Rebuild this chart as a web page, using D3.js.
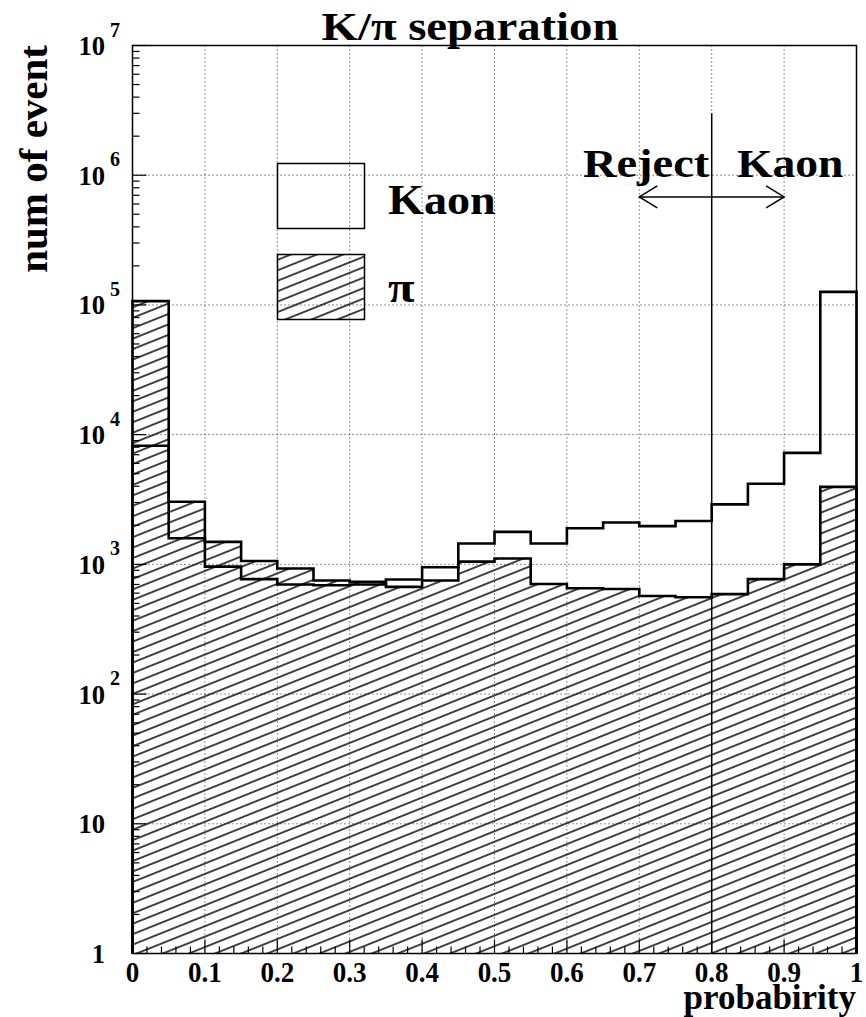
<!DOCTYPE html>
<html>
<head>
<meta charset="utf-8">
<script src="https://cdn.jsdelivr.net/npm/d3@7"></script>
<style>
  html, body { margin: 0; padding: 0; background: #fff; }
  svg { display: block; }
  text { font-family: 'Liberation Serif', 'Times New Roman', serif; font-weight: bold; fill: #000; }
</style>
</head>
<body>
<svg id="chart" width="866" height="1017"></svg>
<script>
// Bin lower edges of the probability histogram (bin width 0.05)
const binEdges = [0.00, 0.05, 0.10, 0.15, 0.20, 0.25, 0.30, 0.35, 0.40, 0.45,
                  0.50, 0.55, 0.60, 0.65, 0.70, 0.75, 0.80, 0.85, 0.90, 0.95, 1.00];
// Event counts per bin
const kaonCounts = [8200, 1590, 960, 770, 700, 690, 700, 765, 950, 1450,
                    1780, 1450, 1900, 2100, 1970, 2160, 2900, 4180, 7240, 126000];
const pionCounts = [107000, 3040, 1490, 1060, 930, 750, 735, 670, 750, 1050,
                    1110, 705, 655, 645, 570, 557, 590, 770, 1000, 3960];
// Axis ticks
const xTicks = [0, 0.1, 0.2, 0.3, 0.4, 0.5, 0.6, 0.7, 0.8, 0.9, 1];
const xTickLabels = ["0", "0.1", "0.2", "0.3", "0.4", "0.5", "0.6", "0.7", "0.8", "0.9", "1"];
const yDecades = [1, 10, 100, 1000, 10000, 100000, 1000000, 10000000];
const yExponents = ["", "", "2", "3", "4", "5", "6", "7"];
const yBaseLabels = ["1", "10", "10", "10", "10", "10", "10", "10"];
// Cut at 0.8 and the "Reject Kaon" arrow
const cutValue = 0.8;
const cutTop = 3.0e6;
const arrowRange = [0.7, 0.9];
const arrowLevel = 6.8e5;

const svg = d3.select("#chart");
const frame = { left: 132.5, right: 856.5, top: 45.5, bottom: 953.5 };

const x = d3.scaleLinear().domain([0, 1]).range([frame.left, frame.right]);
const y = d3.scaleLog().domain([1, 1e7]).range([frame.bottom, frame.top]);

// Hatch pattern for the pion histogram
const defs = svg.append("defs");
const hatch = defs.append("pattern")
  .attr("id", "hatch")
  .attr("patternUnits", "userSpaceOnUse")
  .attr("width", 40).attr("height", 9.7)
  .attr("patternTransform", "rotate(-21.8)");
hatch.append("line")
  .attr("x1", -5).attr("x2", 45).attr("y1", 4.85).attr("y2", 4.85)
  .attr("stroke", "#000").attr("stroke-width", 1.5);

function label(g, px, py, s, size, anchor, sx) {
  return g.append("text")
    .attr("transform", `translate(${px},${py}) scale(${sx},1)`)
    .attr("text-anchor", anchor)
    .style("font-size", size + "px")
    .text(s);
}

// Step outline of a histogram, closed down to the bottom of the frame
function stepPath(counts) {
  const p = d3.path();
  p.moveTo(x(binEdges[0]), y(1));
  counts.forEach((c, i) => {
    p.lineTo(x(binEdges[i]), y(c));
    p.lineTo(x(binEdges[i + 1]), y(c));
  });
  p.lineTo(x(binEdges[binEdges.length - 1]), y(1));
  return p.toString();
}

// Hatched pion area
svg.append("path")
  .attr("d", stepPath(pionCounts) + "Z")
  .attr("fill", "url(#hatch)")
  .attr("stroke", "none");

// Dotted grid
const grid = svg.append("g").attr("stroke", "#222").attr("stroke-width", 1)
  .attr("stroke-dasharray", "1,3");
xTicks.slice(1, -1).forEach(t => {
  grid.append("line").attr("x1", x(t)).attr("x2", x(t))
    .attr("y1", frame.top).attr("y2", frame.bottom);
});
yDecades.slice(1, -1).forEach(v => {
  grid.append("line").attr("x1", frame.left).attr("x2", frame.right)
    .attr("y1", y(v)).attr("y2", y(v));
});

// Histogram outlines
svg.append("path").attr("d", stepPath(pionCounts))
  .attr("fill", "none").attr("stroke", "#000").attr("stroke-width", 2.6);
svg.append("path").attr("d", stepPath(kaonCounts))
  .attr("fill", "none").attr("stroke", "#000").attr("stroke-width", 2.6);

// Axis ticks drawn inside the frame
const ticks = svg.append("g").attr("stroke", "#000").attr("stroke-width", 1.2);
for (let d = 0; d < yDecades.length; d++) {
  const v = yDecades[d];
  ticks.append("line").attr("x1", frame.left).attr("x2", frame.left + 14)
    .attr("y1", y(v)).attr("y2", y(v));
  if (d < yDecades.length - 1) {
    for (let m = 2; m <= 9; m++) {
      ticks.append("line").attr("x1", frame.left).attr("x2", frame.left + 7)
        .attr("y1", y(v * m)).attr("y2", y(v * m));
    }
  }
}
xTicks.forEach((t, i) => {
  ticks.append("line").attr("x1", x(t)).attr("x2", x(t))
    .attr("y1", frame.bottom).attr("y2", frame.bottom - 14);
  if (i < xTicks.length - 1) {
    for (let k = 1; k <= 4; k++) {
      const tm = t + k * 0.02;
      ticks.append("line").attr("x1", x(tm)).attr("x2", x(tm))
        .attr("y1", frame.bottom).attr("y2", frame.bottom - 7);
    }
  }
});

// Frame
svg.append("rect")
  .attr("x", frame.left).attr("y", frame.top)
  .attr("width", frame.right - frame.left).attr("height", frame.bottom - frame.top)
  .attr("fill", "none").attr("stroke", "#000").attr("stroke-width", 1.5);

// Cut line and arrow
svg.append("line")
  .attr("x1", x(cutValue)).attr("x2", x(cutValue))
  .attr("y1", y(cutTop)).attr("y2", y(1))
  .attr("stroke", "#000").attr("stroke-width", 1.5);
const ay = y(arrowLevel);
const ax0 = x(arrowRange[0]), ax1 = x(arrowRange[1]);
const arrow = svg.append("g").attr("stroke", "#000").attr("stroke-width", 1.5).attr("fill", "none");
arrow.append("line").attr("x1", ax0).attr("x2", ax1).attr("y1", ay).attr("y2", ay);
arrow.append("path").attr("d", `M${ax0 + 18},${ay - 11}L${ax0},${ay}L${ax0 + 18},${ay + 11}`);
arrow.append("path").attr("d", `M${ax1 - 18},${ay - 11}L${ax1},${ay}L${ax1 - 18},${ay + 11}`);

const txt = svg.append("g");
label(txt, 583, 177, "Reject", 39, "start", 1.19);
label(txt, 737, 177, "Kaon", 39, "start", 1.17);

// Legend
const legend = svg.append("g");
legend.append("rect").attr("x", 277.5).attr("y", 163.5).attr("width", 87).attr("height", 65)
  .attr("fill", "none").attr("stroke", "#000").attr("stroke-width", 1.5);
legend.append("rect").attr("x", 277.5).attr("y", 254.5).attr("width", 87).attr("height", 65)
  .attr("fill", "url(#hatch)").attr("stroke", "#000").attr("stroke-width", 1.5);
label(legend, 388, 214, "Kaon", 42, "start", 1.1);
label(legend, 388, 302, "π", 44, "start", 1.1);

// Title
label(txt, 470, 40, "K/π separation", 41, "middle", 1.14);

// Y tick labels
yDecades.forEach((v, i) => {
  label(txt, 105, y(v) + 9.5, yBaseLabels[i], 28, "end", 0.95);
  if (yExponents[i]) label(txt, 110, y(v) - 9, yExponents[i], 20, "start", 1.0);
});

// X tick labels
xTicks.forEach((t, i) => {
  label(txt, x(t), 982, xTickLabels[i], 30, "middle", 0.9);
});

// Axis titles
label(txt, 856, 1008.5, "probabirity", 35, "end", 1.0);
txt.append("text")
  .attr("transform", "translate(47,45) rotate(-90)")
  .attr("text-anchor", "end")
  .style("font-size", "41px")
  .text("num of event");
</script>
</body>
</html>
